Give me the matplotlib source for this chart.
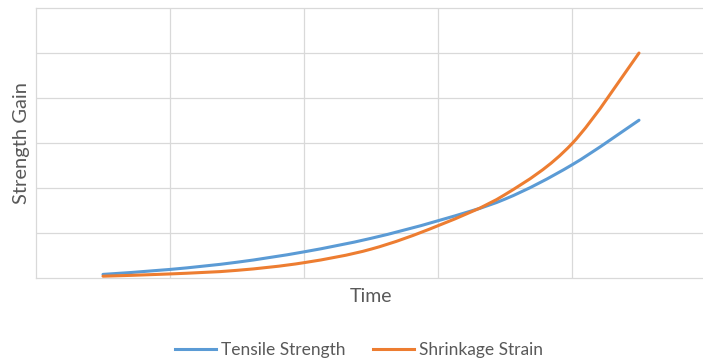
import numpy as np
import matplotlib.pyplot as plt
from matplotlib.path import Path
from matplotlib.patches import PathPatch
from matplotlib.lines import Line2D

# time positions (category units) and values
time_pos = [0, 0.5, 1, 1.5, 2, 2.5, 3, 3.5, 4]
tensile = [0.08, 0.19, 0.35, 0.58, 0.88, 1.27, 1.75, 2.51, 3.50]
shrinkage = [0.04, 0.09, 0.17, 0.34, 0.64, 1.16, 1.85, 2.98, 4.99]

grid_c = "#d9d9d9"
text_c = "#595959"
blue = "#5B9BD5"
orange = "#ED7D31"


def smooth_path(xs, ys):
    # smoothed line (like a spreadsheet "smoothed line"): bezier through the points
    pts = np.column_stack([xs, ys])
    verts = [pts[0]]
    codes = [Path.MOVETO]
    for i in range(len(pts) - 1):
        p0 = pts[max(i - 1, 0)]
        p1 = pts[i]
        p2 = pts[i + 1]
        p3 = pts[min(i + 2, len(pts) - 1)]
        verts += [p1 + (p2 - p0) / 6, p2 - (p3 - p1) / 6, p2]
        codes += [Path.CURVE4] * 3
    return Path(verts, codes)


plt.rcParams['font.family'] = ['Lato', 'DejaVu Sans']

fig = plt.figure(figsize=(7.03, 3.64), dpi=100)
ax = fig.add_axes([36/703, 86/364, 667/703, 270.5/364])

for ys, col in [(tensile, blue), (shrinkage, orange)]:
    ax.add_patch(PathPatch(smooth_path(time_pos, ys), fill=False, edgecolor=col,
                           linewidth=2.2, capstyle='round', zorder=3))

ax.set_xlim(-0.5, 600/134)
ax.set_ylim(0, 6)
ax.set_xticks([0.5, 1.5, 2.5, 3.5])
ax.set_yticks([1, 2, 3, 4, 5])
ax.tick_params(length=0, labelbottom=False, labelleft=False)
ax.grid(True, color=grid_c, linewidth=0.9)
ax.set_axisbelow(True)
for side in ['left', 'top', 'bottom']:
    ax.spines[side].set_color(grid_c)
    ax.spines[side].set_linewidth(0.9)
ax.spines['right'].set_visible(False)

fig.text(22/703, 1 - 143/364, "Strength Gain", rotation=90, ha='center', va='center',
         fontsize=14.5, color=text_c)
fig.text(371/703, 1 - 296/364, "Time", ha='center', va='center', fontsize=14, color=text_c)

handles = [Line2D([], [], color=blue, linewidth=2.2), Line2D([], [], color=orange, linewidth=2.2)]
leg = fig.legend(handles, ["Tensile Strength", "Shrinkage Strain"], loc='center',
                 bbox_to_anchor=(359/703, 1 - 350/364), ncol=2, frameon=False,
                 fontsize=12.5, handlelength=2.36, handletextpad=0.3, columnspacing=1.55)
for t in leg.get_texts():
    t.set_color(text_c)

fig.savefig("out.png", dpi=100)
